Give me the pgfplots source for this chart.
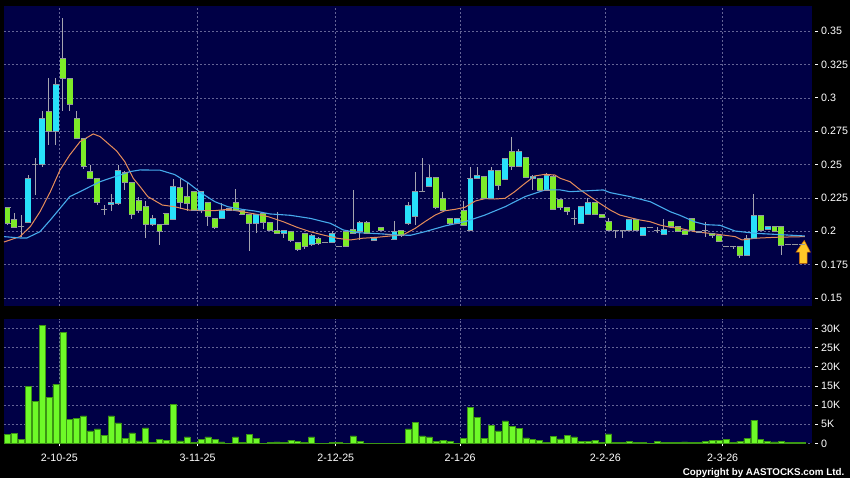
\documentclass[border=0pt]{standalone}
\usepackage{fontspec}
\setmainfont{Liberation Sans}
\usepackage{pgfplots}
\usepackage{pgfplotstable}
\pgfplotsset{compat=1.18}

\definecolor{navy}{RGB}{0,0,70}
\definecolor{gridcol}{RGB}{100,100,150}
\definecolor{upcol}{RGB}{40,225,250}
\definecolor{dncol}{RGB}{125,235,40}
\definecolor{edgecol}{RGB}{150,150,160}
\definecolor{wickcol}{RGB}{165,165,175}
\definecolor{volcol}{RGB}{110,250,40}
\definecolor{voledge}{RGB}{60,150,20}
\definecolor{ma1}{RGB}{230,140,90}
\definecolor{ma2}{RGB}{70,170,235}
\definecolor{arrowcol}{RGB}{255,200,40}

% i = trading day, o h l c = price, v = volume (thousands)
\pgfplotstableread{
i o h l c v
0 0.218 0.2185 0.205 0.206 2.4
1 0.209 0.2135 0.2025 0.203 2.6
2 0.2035 0.212 0.196 0.2035 1.1
3 0.207 0.242 0.206 0.240 15.0
4 0.250 0.255 0.227 0.250 10.9
5 0.250 0.290 0.248 0.285 30.9
6 0.290 0.315 0.265 0.275 12.1
7 0.275 0.315 0.265 0.310 15.5
8 0.330 0.360 0.290 0.315 29.1
9 0.315 0.315 0.290 0.295 6.3
10 0.285 0.290 0.270 0.270 6.5
11 0.270 0.270 0.247 0.249 7.2
12 0.245 0.250 0.240 0.240 3.3
13 0.240 0.240 0.220 0.222 3.8
14 0.2165 0.220 0.212 0.2165 2.2
15 0.220 0.228 0.215 0.2215 7.2
16 0.221 0.250 0.220 0.246 5.4
17 0.244 0.245 0.231 0.237 1.4
18 0.237 0.237 0.209 0.213 2.8
19 0.223 0.226 0.214 0.216 0.7
20 0.219 0.223 0.195 0.205 4.1
21 0.205 0.212 0.204 0.210 0.3
22 0.205 0.205 0.190 0.200 1.1
23 0.2135 0.2135 0.205 0.2055 0.8
24 0.209 0.239 0.209 0.234 10.3
25 0.233 0.239 0.217 0.222 0.7
26 0.226 0.237 0.215 0.221 1.7
27 0.230 0.230 0.215 0.216 0.35
28 0.216 0.230 0.214 0.230 1.1
29 0.222 0.222 0.204 0.211 1.7
30 0.210 0.210 0.202 0.203 1.0
31 0.210 0.221 0.210 0.2155 0.4
32 0.217 0.217 0.215 0.2155 0.1
33 0.222 0.2315 0.215 0.216 1.7
34 0.216 0.216 0.212 0.213 0.35
35 0.213 0.213 0.185 0.206 2.3
36 0.206 0.213 0.1985 0.213 1.4
37 0.2135 0.214 0.202 0.2065 0.1
38 0.2065 0.2065 0.200 0.2005 0.2
39 0.201 0.2147 0.198 0.1985 0.4
40 0.1985 0.201 0.195 0.201 0.35
41 0.1997 0.1997 0.192 0.1935 0.9
42 0.1915 0.1915 0.185 0.1865 0.6
43 0.1985 0.1985 0.187 0.189 0.3
44 0.190 0.198 0.189 0.197 1.7
45 0.195 0.196 0.190 0.191 0.1
46 0.1915 0.1915 0.1915 0.1915 0.1
47 0.1915 0.200 0.191 0.1985 0.3
48 0.189 0.189 0.189 0.189 0.3
49 0.1997 0.201 0.188 0.1885 0.1
50 0.2015 0.231 0.1985 0.1985 2.0
51 0.200 0.208 0.1935 0.207 0.6
52 0.207 0.208 0.198 0.1985 0.1
53 0.193 0.1945 0.193 0.1945 0.1
54 0.203 0.203 0.2007 0.2007 0.1
55 0.198 0.198 0.198 0.198 0.1
56 0.194 0.208 0.194 0.200 0.1
57 0.2005 0.2005 0.1957 0.197 0.1
58 0.206 0.222 0.205 0.2197 3.8
59 0.211 0.2447 0.205 0.230 5.6
60 0.230 0.2547 0.230 0.230 2.0
61 0.234 0.2497 0.234 0.2405 1.7
62 0.2405 0.241 0.2165 0.218 0.5
63 0.2247 0.2297 0.215 0.2155 0.9
64 0.2097 0.2097 0.205 0.206 0.5
65 0.206 0.2102 0.206 0.210 0.1
66 0.2155 0.2227 0.204 0.2047 1.4
67 0.201 0.2484 0.200 0.2397 9.5
68 0.240 0.2484 0.239 0.2417 6.8
69 0.2415 0.2415 0.2247 0.2247 1.3
70 0.2247 0.248 0.2247 0.246 4.8
71 0.2454 0.2454 0.231 0.2347 3.3
72 0.239 0.2547 0.2385 0.2547 5.9
73 0.260 0.2705 0.246 0.2484 4.4
74 0.2484 0.262 0.248 0.260 4.0
75 0.2555 0.2555 0.2405 0.2405 1.5
76 0.2397 0.242 0.231 0.241 1.0
77 0.240 0.240 0.231 0.231 0.8
78 0.231 0.2435 0.230 0.2422 0.3
79 0.2415 0.2422 0.2165 0.2165 1.8
80 0.224 0.224 0.216 0.218 1.2
81 0.218 0.218 0.212 0.2147 2.2
82 0.210 0.216 0.2047 0.210 1.7
83 0.206 0.2185 0.206 0.2185 0.5
84 0.213 0.2247 0.213 0.2217 0.5
85 0.2217 0.2217 0.213 0.213 0.9
86 0.213 0.213 0.2105 0.2105 0.35
87 0.2077 0.2097 0.200 0.201 2.5
88 0.201 0.201 0.195 0.201 0.35
89 0.201 0.201 0.195 0.201 0.35
90 0.201 0.209 0.201 0.209 0.6
91 0.209 0.209 0.201 0.201 0.35
92 0.1972 0.2027 0.1972 0.2027 0.35
93 0.2027 0.2027 0.2027 0.2027 0.1
94 0.201 0.2035 0.1985 0.201 0.6
95 0.198 0.209 0.198 0.2015 0.35
96 0.2077 0.2077 0.2035 0.2035 0.35
97 0.2035 0.2035 0.200 0.2002 0.2
98 0.201 0.201 0.1977 0.1977 0.4
99 0.2097 0.2097 0.2005 0.2005 0.3
100 0.2002 0.2002 0.199 0.199 0.35
101 0.2005 0.2072 0.196 0.2005 0.6
102 0.1985 0.1985 0.1948 0.1967 0.9
103 0.1972 0.1972 0.1927 0.1927 0.8
104 0.189 0.189 0.189 0.189 1.0
105 0.189 0.189 0.187 0.189 0.35
106 0.1885 0.1885 0.1798 0.1822 0.6
107 0.1822 0.197 0.182 0.1948 1.3
108 0.195 0.228 0.195 0.2122 6.1
109 0.2122 0.2122 0.201 0.201 1.0
110 0.2015 0.2035 0.2015 0.2035 0.6
111 0.2035 0.2035 0.1997 0.1997 0.4
112 0.204 0.204 0.182 0.1897 0.5
113 0.1905 0.1905 0.1905 0.1905 0.2
114 0.1905 0.1905 0.1905 0.1905 0.2
115 0.1905 0.1905 0.1905 0.1905 0.3
}\ohlc

\pgfplotsset{
  panel/.style={
    scale only axis, anchor=south west, width=807.7pt,
    xmin=-0.51, xmax=116.38,
    axis background/.style={fill=navy},
    axis line style={draw=none},
    xmajorgrids, ymajorgrids,
    major grid style={gridcol, dash pattern=on 2pt off 2pt, line width=0.6pt},
    xtick={7.5,27.5,47.5,65.5,86.5,103.5},
    tick align=outside, major tick length=3pt,
    ytick pos=right, yticklabel pos=right, xtick pos=bottom,
    ytick style={white, line width=0.8pt, xshift=3.3pt},
    tick label style={text=white, font=\fontsize{10.7}{12}\selectfont},
    yticklabel style={anchor=west, xshift=3pt},
  },
  body/.style={draw=none, mark=none, forget plot},
}

\begin{document}
\begin{tikzpicture}[x=1pt,y=1pt]
\fill[black] (0,0) rectangle (850,478);
\useasboundingbox (0,0) rectangle (850,478);

% price panel
\begin{axis}[panel, at={(4pt,172pt)}, height=300pt,
  ymin=0.144, ymax=0.3689,
  ytick={0.15,0.175,0.2,0.225,0.25,0.275,0.3,0.325,0.35},
  yticklabels={0.15,0.175,0.2,0.225,0.25,0.275,0.3,0.325,0.35},
  xticklabels={}, xtick style={draw=none}]
% wicks
\addplot[body, error bars/.cd, y dir=both, y explicit, error mark=none,
  error bar style={draw=wickcol, line width=1pt}]
  table[x=i, y expr={(\thisrow{h}+\thisrow{l})/2}, y error expr={(\thisrow{h}-\thisrow{l})/2}] {\ohlc};
% rising bodies
\addplot[body, restrict expr to domain={\thisrow{c}-\thisrow{o}}{0.00001:1},
  error bars/.cd, y dir=both, y explicit, error mark=none,
  error bar style={draw=upcol, line width=5.9pt}]
  table[x=i, y expr={(\thisrow{o}+\thisrow{c})/2}, y error expr={abs(\thisrow{c}-\thisrow{o})/2}] {\ohlc};
% falling bodies
\addplot[body, restrict expr to domain={\thisrow{o}-\thisrow{c}}{0.00001:1},
  error bars/.cd, y dir=both, y explicit, error mark=none,
  error bar style={draw=dncol, line width=5.9pt}]
  table[x=i, y expr={(\thisrow{o}+\thisrow{c})/2}, y error expr={abs(\thisrow{c}-\thisrow{o})/2}] {\ohlc};
% body edges
\addplot[only marks, mark=-, mark size=3pt, mark options={draw=edgecol, line width=0.7pt}] table[x=i, y=o] {\ohlc};
\addplot[only marks, mark=-, mark size=3pt, mark options={draw=edgecol, line width=0.7pt}] table[x=i, y=c] {\ohlc};
% moving averages
\addplot[ma1, line width=1pt] coordinates {
(-0.5,0.192)(1.8,0.196)(3.3,0.2035)(4.7,0.2147)(6.2,0.2297)(7.6,0.246)(9.0,0.2572)(10.5,0.2672)(12.4,0.273)(13.4,0.271)(14.8,0.2647)(15.8,0.2602)(17.0,0.252)(18.2,0.2397)(19.2,0.2334)(20.3,0.226)(22.4,0.2197)(24.2,0.2184)(26.1,0.216)(28.1,0.2155)(30.0,0.2155)(31.9,0.2165)(33.9,0.2147)(35.8,0.213)(37.7,0.211)(39.9,0.2072)(41.9,0.203)(43.8,0.1997)(45.7,0.1972)(47.7,0.1948)(49.6,0.1935)(51.4,0.1948)(53.5,0.1955)(55.4,0.1965)(57.2,0.1972)(59.0,0.2022)(60.4,0.2072)(61.9,0.2122)(63.3,0.2154)(64.8,0.2165)(66.2,0.218)(67.7,0.2227)(69.1,0.2245)(70.5,0.2242)(72.0,0.2247)(73.4,0.2297)(74.9,0.236)(76.3,0.2415)(77.8,0.2427)(79.2,0.2422)(80.0,0.2397)(81.4,0.2372)(82.9,0.231)(84.3,0.226)(85.7,0.221)(87.2,0.216)(88.6,0.2122)(90.1,0.2102)(91.5,0.2085)(93.0,0.2072)(94.4,0.2047)(95.9,0.203)(97.3,0.2022)(99.5,0.1997)(102.4,0.198)(105.3,0.196)(106.3,0.1935)(108.2,0.1948)(111.1,0.1955)(115.4,0.196)
};
\addplot[ma2, line width=1.1pt] coordinates {
(-0.5,0.196)(1.8,0.195)(2.8,0.195)(4.7,0.1997)(6.2,0.2085)(7.6,0.2172)(9.0,0.226)(10.5,0.2297)(11.9,0.2334)(13.4,0.2372)(14.8,0.2397)(16.3,0.2422)(17.7,0.2447)(19.2,0.246)(22.1,0.2458)(24.2,0.2425)(26.1,0.2365)(28.1,0.2285)(30.0,0.2222)(31.9,0.2184)(33.9,0.2165)(35.8,0.2152)(38.0,0.213)(40.9,0.212)(43.8,0.2097)(46.7,0.206)(48.6,0.201)(50.6,0.199)(52.5,0.1985)(54.3,0.198)(56.4,0.1972)(58.3,0.197)(60.4,0.1997)(63.3,0.204)(66.2,0.2072)(69.1,0.2122)(72.0,0.2184)(74.9,0.226)(77.8,0.231)(80.0,0.231)(81.4,0.2297)(86.2,0.231)(87.2,0.229)(90.1,0.226)(93.0,0.2222)(95.9,0.2147)(97.3,0.212)(99.5,0.207)(101.0,0.205)(103.1,0.2045)(105.3,0.2002)(108.2,0.1985)(115.4,0.1965)
};
% last-price arrow
\filldraw[fill=arrowcol, draw=orange!80!black, line width=0.5pt]
  (axis cs:115.3,0.1932) -- (axis cs:116.2,0.1843) -- (axis cs:115.7,0.1843)
  -- (axis cs:115.7,0.1760) -- (axis cs:114.6,0.1760) -- (axis cs:114.6,0.1843)
  -- (axis cs:114.1,0.1843) -- cycle;
\end{axis}

% volume panel
\begin{axis}[panel, at={(4pt,34.5pt)}, height=124.5pt,
  ymin=0, ymax=32.5,
  ytick={0,5,10,15,20,25,30},
  yticklabels={0,5K,10K,15K,20K,25K,30K},
  xticklabels={2-10-25,3-11-25,2-12-25,2-1-26,2-2-26,2-3-26},
  xtick style={white, line width=0.8pt},
  xticklabel style={yshift=-4pt}]
\addplot[ybar, bar width=6pt, bar shift=0pt, fill=volcol, draw=voledge, line width=0.5pt]
  table[x=i, y=v] {\ohlc};
\end{axis}

\node[anchor=base east, text=white, inner sep=0pt,
  font=\bfseries\fontsize{9.8}{11}\selectfont] at (844.5,2) {Copyright by AASTOCKS.com Ltd.};
\end{tikzpicture}
\end{document}
